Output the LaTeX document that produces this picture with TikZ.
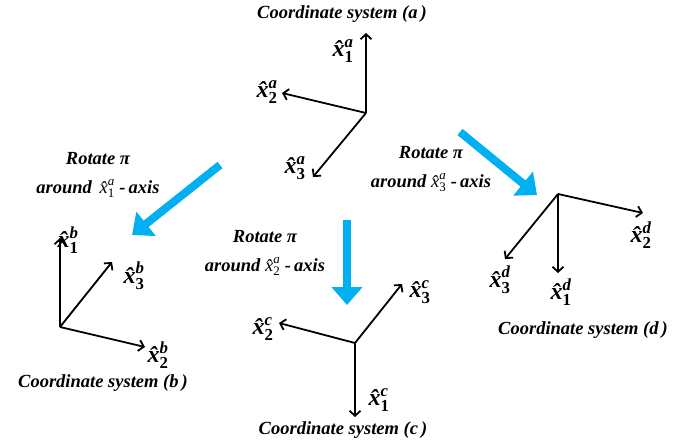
\documentclass[tikz,border=0pt]{standalone}
\usepackage{amsmath}
\usepackage{fontspec}
\setmainfont{Liberation Serif}
\usetikzlibrary{arrows.meta}
\definecolor{rotblue}{HTML}{00B0F0}

% axis label: \xh{subscript}{superscript}
\newcommand{\xh}[2]{$\text{\^{x}}^{\text{#2}}_{\text{\upshape #1}}$}

\begin{document}
\begin{tikzpicture}[
                x=1pt, y=-1pt,
                >=Stealth,
                font=\bfseries\itshape\fontsize{18.5}{29}\selectfont,
                axisarrow/.style={-{Straight Barb[length=5pt,width=11pt]}, line width=1.8pt},
                axislabel/.style={font=\bfseries\itshape\fontsize{24}{26}\selectfont, inner sep=0pt},
                title/.style={inner sep=0pt},
                rotlabel/.style={align=center, inner sep=0pt},
                rotarrow/.style={-{Triangle[length=18pt,width=30pt]}, line width=8pt, rotblue},
                ]
                \useasboundingbox (0,0) rectangle (686,444);

                % ── System (a) ──
                \coordinate (oa) at (366,113);
                \coordinate (a1) at (366,33);
                \coordinate (a2) at (282,93);
                \coordinate (a3) at (313,177);
                \draw[axisarrow] (oa) -- (a1);
                \draw[axisarrow] (oa) -- (a2);
                \draw[axisarrow] (oa) -- (a3);
                \node[axislabel] (la1) at (343,51) {\xh{1}{a}};
                \node[axislabel] (la2) at (267,92) {\xh{2}{a}};
                \node[axislabel] (la3) at (295,168) {\xh{3}{a}};
                \node[title] (ta) at (342,14) {Coordinate system (\textit{a}\,)};

                % ── System (b) ──
                \coordinate (ob) at (60,327);
                \coordinate (b1) at (60,238);
                \coordinate (b2) at (145,347);
                \coordinate (b3) at (112,262);
                \draw[axisarrow] (ob) -- (b1);
                \draw[axisarrow] (ob) -- (b2);
                \draw[axisarrow] (ob) -- (b3);
                \node[axislabel] (lb1) at (68,240) {\xh{1}{b}};
                \node[axislabel] (lb2) at (158,355) {\xh{2}{b}};
                \node[axislabel] (lb3) at (134,276) {\xh{3}{b}};
                \node[title] (tb) at (103,383) {Coordinate system (\textit{b}\,)};

                % ── System (c) ──
                \coordinate (oc) at (355,343);
                \coordinate (c1) at (355,417);
                \coordinate (c2) at (279,323);
                \coordinate (c3) at (402,284);
                \draw[axisarrow] (oc) -- (c1);
                \draw[axisarrow] (oc) -- (c2);
                \draw[axisarrow] (oc) -- (c3);
                \node[axislabel] (lc1) at (379,400) {\xh{1}{c}};
                \node[axislabel] (lc2) at (263,329) {\xh{2}{c}};
                \node[axislabel] (lc3) at (420,292) {\xh{3}{c}};
                \node[title] (tc) at (343,430) {Coordinate system (\textit{c}\,)};

                % ── System (d) ──
                \coordinate (od) at (558,194);
                \coordinate (d1) at (558,273);
                \coordinate (d2) at (643,213);
                \coordinate (d3) at (505,259);
                \draw[axisarrow] (od) -- (d1);
                \draw[axisarrow] (od) -- (d2);
                \draw[axisarrow] (od) -- (d3);
                \node[axislabel] (ld1) at (561,292) {\xh{1}{d}};
                \node[axislabel] (ld2) at (641,235) {\xh{2}{d}};
                \node[axislabel] (ld3) at (500,280) {\xh{3}{d}};
                \node[title] (td) at (583,330) {Coordinate system (\textit{d}\,)};

                % ── Rotations ──
                \node[rotlabel] (rb) at (98,175) {Rotate π\\around \,{\mdseries\xh{1}{a}} -\,axis};
                \node[rotlabel] (rc) at (265,253) {Rotate π\\around {\mdseries\xh{2}{a}} -\,axis};
                \node[rotlabel] (rd) at (431,169) {Rotate π\\around {\mdseries\xh{3}{a}} -\,axis};

                \coordinate (sb) at (220,165);
                \coordinate (eb) at (132,235);
                \coordinate (sc) at (347,220);
                \coordinate (ec) at (347,305);
                \coordinate (sd) at (460,132);
                \coordinate (ed) at (537,195);
                \draw[rotarrow] (sb) -- (eb);
                \draw[rotarrow] (sc) -- (ec);
                \draw[rotarrow] (sd) -- (ed);

\end{tikzpicture}
\end{document}
